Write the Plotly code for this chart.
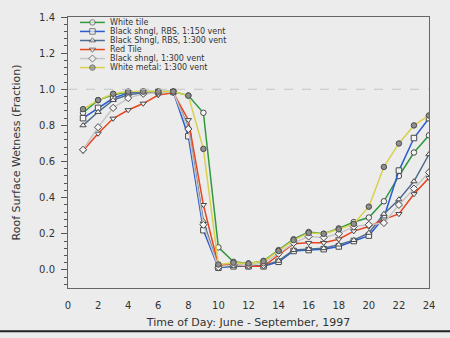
import plotly.graph_objects as go

# Hourly roof surface wetness, June - September 1997
hours = list(range(1, 25))

white_tile = [0.87, 0.94, 0.97, 0.985, 0.987, 0.987, 0.987, 0.965, 0.87, 0.125, 0.045, 0.036,
              0.05, 0.11, 0.17, 0.21, 0.20, 0.23, 0.265, 0.29, 0.38, 0.52, 0.65, 0.745]
black_rbs_150 = [0.84, 0.897, 0.95, 0.98, 0.985, 0.985, 0.985, 0.74, 0.22, 0.012, 0.02, 0.02,
                 0.02, 0.045, 0.105, 0.11, 0.115, 0.13, 0.16, 0.19, 0.29, 0.55, 0.73, 0.84]
black_rbs_300 = [0.80, 0.874, 0.94, 0.97, 0.98, 0.985, 0.985, 0.79, 0.27, 0.015, 0.022, 0.02,
                 0.025, 0.05, 0.11, 0.115, 0.12, 0.14, 0.165, 0.205, 0.31, 0.39, 0.49, 0.64]
red_tile = [0.66, 0.755, 0.838, 0.885, 0.921, 0.968, 0.98, 0.83, 0.36, 0.025, 0.03, 0.02,
            0.02, 0.085, 0.145, 0.15, 0.15, 0.17, 0.215, 0.24, 0.28, 0.31, 0.42, 0.51]
black_300 = [0.665, 0.79, 0.897, 0.951, 0.975, 0.98, 0.985, 0.78, 0.25, 0.015, 0.03, 0.025,
             0.04, 0.09, 0.15, 0.185, 0.18, 0.2, 0.24, 0.25, 0.26, 0.36, 0.45, 0.54]
white_metal = [0.89, 0.94, 0.975, 0.987, 0.987, 0.987, 0.987, 0.965, 0.67, 0.03, 0.04, 0.035,
               0.048, 0.105, 0.165, 0.205, 0.20, 0.225, 0.255, 0.35, 0.57, 0.70, 0.80, 0.855]

series_names = ["White tile", "Black shngl, RBS, 1:150 vent", "Black Shngl, RBS, 1:300 vent",
                "Red Tile", "Black shngl, 1:300 vent", "White metal: 1:300 vent"]
series_values = [white_tile, black_rbs_150, black_rbs_300, red_tile, black_300, white_metal]
line_colors = ["#2f9a3c", "#2a5bd0", "#4d6b8c", "#e8441e", "#c6c6c6", "#d9d04e"]
marker_symbols = ["circle", "square", "triangle-up", "triangle-down", "diamond", "circle"]
marker_fills = ["#f4f4f4", "#f4f4f4", "#f4f4f4", "#f4f4f4", "#f4f4f4", "#8f8f8f"]

x_ticks = list(range(0, 25, 2))
y_ticks = [0.0, 0.2, 0.4, 0.6, 0.8, 1.0, 1.2, 1.4]

BG = "#ececec"
TXT = "#333333"
FONT = "DejaVu Sans"
EDGE = "#4a4a4a"

fig = go.Figure()

for name, vals, col, sym, fill in zip(series_names, series_values, line_colors,
                                      marker_symbols, marker_fills):
    fig.add_trace(go.Scatter(
        x=hours, y=vals, name=name, mode="lines+markers",
        line=dict(color=col, width=1.5),
        marker=dict(symbol=sym, size=5.5, color=fill, line=dict(color=EDGE, width=1)),
        showlegend=False,
    ))

# Hand-built legend box in the upper-left corner (compact rows)
leg_x0, leg_x1 = 0.8, 2.45
leg_top, leg_step = 1.37, 0.05
for i, (name, col, sym, fill) in enumerate(zip(series_names, line_colors,
                                               marker_symbols, marker_fills)):
    yy = leg_top - i * leg_step
    fig.add_trace(go.Scatter(
        x=[leg_x0, (leg_x0 + leg_x1) / 2, leg_x1], y=[yy, yy, yy],
        mode="lines+markers", line=dict(color=col, width=1.5),
        marker=dict(symbol=sym, size=[0, 5.5, 0], color=fill,
                    line=dict(color=EDGE, width=1)),
        showlegend=False, hoverinfo="skip",
    ))
    fig.add_annotation(x=leg_x1 + 0.2, y=yy, text=name, showarrow=False,
                       xanchor="left", yanchor="middle",
                       font=dict(family=FONT, size=8, color=TXT))

# Saturation reference at 1.0
fig.add_hline(y=1.0, line=dict(color="#c4c4c4", width=1.2, dash="dash"))

# Page rule under the chart
fig.add_shape(type="line", xref="paper", yref="paper", x0=-0.3, x1=1.2,
              y0=-0.16, y1=-0.16, line=dict(color="#222222", width=2))

fig.update_layout(
    width=450, height=338,
    margin=dict(l=68, r=21, t=11, b=50),
    paper_bgcolor=BG, plot_bgcolor=BG,
    font=dict(family=FONT, size=10, color=TXT),
    showlegend=False,
)
fig.update_xaxes(
    range=[0, 24], tickvals=x_ticks, ticks="", showgrid=False, zeroline=False,
    showline=True, linecolor="#666666", linewidth=1, mirror=True,
    tickfont=dict(size=10, color=TXT), ticklabelstandoff=8,
    title=dict(text="Time of Day: June - September, 1997", font=dict(size=11, color=TXT),
               standoff=8),
)
fig.update_yaxes(
    range=[-0.1, 1.4], tickvals=y_ticks, tickformat=".1f", ticks="outside", ticklen=6,
    tickcolor="#555555", showgrid=False, zeroline=False,
    showline=True, linecolor="#666666", linewidth=1, mirror=True,
    minor=dict(dtick=0.04, tick0=0, ticks="outside", ticklen=3, tickcolor="#555555"),
    tickfont=dict(size=10, color=TXT), ticklabelstandoff=4,
    title=dict(text="Roof Surface Wetness (Fraction)", font=dict(size=11, color=TXT),
               standoff=16),
)

fig.write_html("out.html")
